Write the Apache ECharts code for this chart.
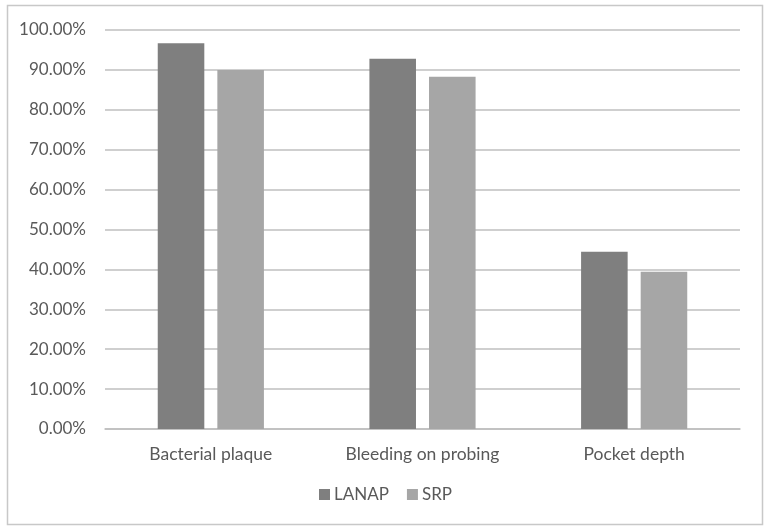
<!DOCTYPE html>
<html><head><meta charset="utf-8">
<script src="https://cdn.jsdelivr.net/npm/echarts@6/dist/echarts.min.js"></script>
<style>html,body{margin:0;padding:0;background:#fff}#c{width:771px;height:532px}</style>
</head><body><div id="c"></div>
<script>
const categories = ['Bacterial plaque', 'Bleeding on probing', 'Pocket depth'];
const lanap = [96.7, 92.8, 44.4];
const srp = [90.0, 88.3, 39.4];
const seriesNames = ['LANAP', 'SRP'];

const chart = echarts.init(document.getElementById('c'), null, {renderer: 'canvas'});
const font = 'Lato';
chart.setOption({
  backgroundColor: '#fff',
  animation: false,
  graphic: [{type: 'rect', shape: {x: 7.5, y: 5.5, width: 755, height: 519}, style: {fill: 'none', stroke: '#c8c8c8', lineWidth: 1.5}}],
  grid: {left: 105, right: 31, top: 30, bottom: 103},
  legend: {
    data: seriesNames, bottom: 24, left: 'center', itemWidth: 11, itemHeight: 11, itemGap: 18,
    icon: 'rect', textStyle: {color: '#595959', fontSize: 17, fontFamily: font, padding: [0, 0, 0, -1]}
  },
  xAxis: {
    type: 'category', data: categories,
    axisLine: {lineStyle: {color: '#bfbfbf', width: 1.5}}, axisTick: {show: false},
    axisLabel: {color: '#595959', fontSize: 17.5, fontFamily: font, margin: 16}
  },
  yAxis: {
    type: 'value', min: 0, max: 100, interval: 10,
    axisLine: {show: false}, axisTick: {show: false},
    splitLine: {lineStyle: {color: '#bfbfbf', width: 1.5}},
    axisLabel: {color: '#595959', fontSize: 17, fontFamily: font, margin: 19, formatter: v => v.toFixed(2) + '%'}
  },
  series: [
    {name: 'LANAP', type: 'bar', data: lanap, barWidth: '22%', barGap: '28%', itemStyle: {color: '#7f7f7f'}},
    {name: 'SRP', type: 'bar', data: srp, barWidth: '22%', itemStyle: {color: '#a6a6a6'}}
  ]
});
</script></body></html>
